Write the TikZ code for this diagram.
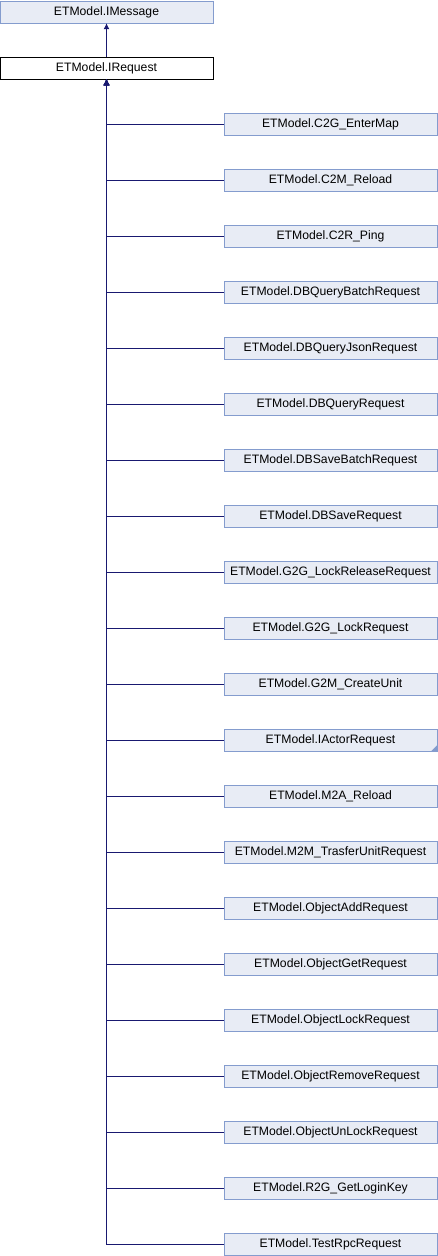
\documentclass[tikz,border=0pt]{standalone}
\usepackage{fontspec}
\setmainfont{Liberation Sans}
\usetikzlibrary{arrows.meta}
\definecolor{boxfill}{RGB}{232,236,245}
\definecolor{boxline}{RGB}{132,156,206}
\definecolor{linkline}{RGB}{25,25,112}
\begin{document}
\begin{tikzpicture}
			[x=1pt,y=-1pt,
			every node/.style={rectangle, minimum width=213pt, minimum height=22pt, inner sep=0pt, font=\fontsize{12.2}{14}\selectfont},
			cls/.style={draw=boxline, fill=boxfill},
			link/.style={draw=linkline, line width=0.9pt, {Latex[length=6pt,width=6pt]}-}]
			\useasboundingbox (0,0) rectangle (438,1256);
			\node (imsg)[cls] at (106.5,12) {ETModel.IMessage};
			\node (ireq)[draw=black, fill=white] at (106.5,68) {ETModel.IRequest};
			% derived requests
			\node (c1)[cls] at (330.5,124)  {ETModel.C2G\_EnterMap};
			\node (c2)[cls] at (330.5,180)  {ETModel.C2M\_Reload};
			\node (c3)[cls] at (330.5,236)  {ETModel.C2R\_Ping};
			\node (c4)[cls] at (330.5,292)  {ETModel.DBQueryBatchRequest};
			\node (c5)[cls] at (330.5,348)  {ETModel.DBQueryJsonRequest};
			\node (c6)[cls] at (330.5,404)  {ETModel.DBQueryRequest};
			\node (c7)[cls] at (330.5,460)  {ETModel.DBSaveBatchRequest};
			\node (c8)[cls] at (330.5,516)  {ETModel.DBSaveRequest};
			\node (c9)[cls] at (330.5,572)  {ETModel.G2G\_LockReleaseRequest};
			\node (c10)[cls] at (330.5,628) {ETModel.G2G\_LockRequest};
			\node (c11)[cls] at (330.5,684) {ETModel.G2M\_CreateUnit};
			\node (c12)[cls] at (330.5,740) {ETModel.IActorRequest};
			\node (c13)[cls] at (330.5,796) {ETModel.M2A\_Reload};
			\node (c14)[cls] at (330.5,852) {ETModel.M2M\_TrasferUnitRequest};
			\node (c15)[cls] at (330.5,908) {ETModel.ObjectAddRequest};
			\node (c16)[cls] at (330.5,964) {ETModel.ObjectGetRequest};
			\node (c17)[cls] at (330.5,1020) {ETModel.ObjectLockRequest};
			\node (c18)[cls] at (330.5,1076) {ETModel.ObjectRemoveRequest};
			\node (c19)[cls] at (330.5,1132) {ETModel.ObjectUnLockRequest};
			\node (c20)[cls] at (330.5,1188) {ETModel.R2G\_GetLoginKey};
			\node (c21)[cls] at (330.5,1244) {ETModel.TestRpcRequest};
			% corner mark of the collapsed node
			\fill[boxline] (c12.south east) -- ++(0,-6) -- ++(-6,6) -- cycle;
			\draw[link] (imsg.south) -- (ireq.north);
			\foreach \c in {c1,c2,c3,c4,c5,c6,c7,c8,c9,c10,c11,c12,c13,c14,c15,c16,c17,c18,c19,c20,c21}
				\draw[link] (ireq.south) |- (\c.west);
	\end{tikzpicture}
\end{document}
